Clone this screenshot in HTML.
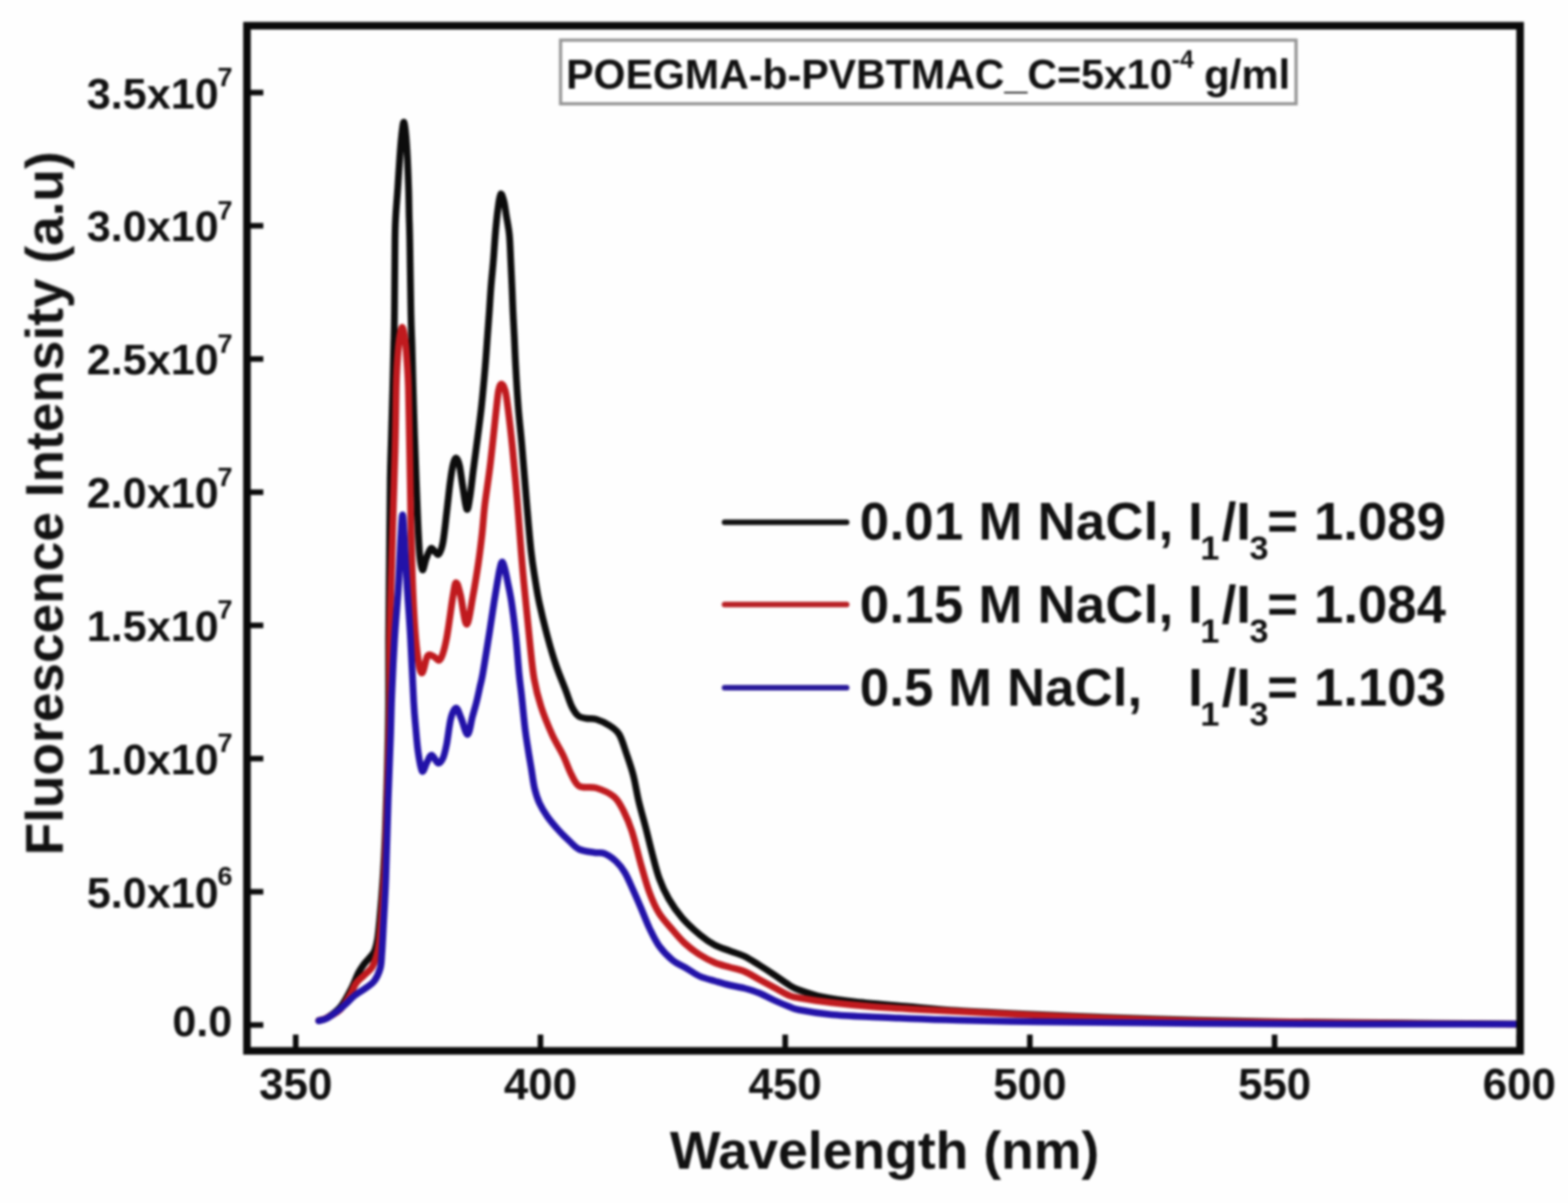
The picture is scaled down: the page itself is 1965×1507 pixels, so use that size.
<!DOCTYPE html>
<html><head><meta charset="utf-8"><title>Fluorescence spectra</title>
<style>html,body{margin:0;padding:0;background:#fff;}svg{display:block;}</style>
</head><body>
<svg width="1965" height="1507" viewBox="0 0 1965 1507">
<defs><filter id="soft" filterUnits="userSpaceOnUse" x="0" y="0" width="1965" height="1507" color-interpolation-filters="sRGB"><feGaussianBlur stdDeviation="1.4"/></filter></defs>
<rect width="1965" height="1507" fill="#fefefe"/>
<g filter="url(#soft)">
<path d="M399.5,1278.5 C401.2,1277.9 405.4,1277.9 410.0,1275.0 C414.6,1272.1 422.0,1267.0 427.0,1261.0 C432.0,1255.0 436.3,1246.0 440.0,1239.0 C443.7,1232.0 446.3,1224.2 449.0,1219.0 C451.7,1213.8 453.7,1211.2 456.0,1208.0 C458.3,1204.8 460.8,1202.7 463.0,1200.0 C465.2,1197.3 467.3,1195.8 469.0,1192.0 C470.7,1188.2 471.8,1184.0 473.0,1177.0 C474.2,1170.0 474.8,1162.8 476.0,1150.0 C477.2,1137.2 478.8,1118.3 480.0,1100.0 C481.2,1081.7 482.1,1063.3 483.0,1040.0 C483.9,1016.7 484.8,986.7 485.5,960.0 C486.2,933.3 486.8,906.7 487.0,880.0 C487.2,853.3 486.8,830.0 487.0,800.0 C487.2,770.0 487.7,733.3 488.0,700.0 C488.3,666.7 488.6,625.7 489.0,600.0 C489.4,574.3 490.0,565.0 490.5,546.0 C491.0,527.0 491.7,504.8 492.2,486.0 C492.7,467.2 493.1,448.5 493.5,433.0 C493.9,417.5 494.1,415.2 494.3,393.0 C494.6,370.8 494.7,320.5 495.0,300.0 C495.3,279.5 495.4,280.8 496.0,270.0 C496.6,259.2 497.7,247.2 498.5,235.0 C499.3,222.8 500.2,208.2 501.0,197.0 C501.8,185.8 502.7,175.3 503.5,168.0 C504.3,160.7 505.2,153.0 506.0,153.0 C506.8,153.0 507.8,160.7 508.5,168.0 C509.2,175.3 509.9,185.8 510.5,197.0 C511.1,208.2 511.6,222.8 512.0,235.0 C512.4,247.2 512.5,259.2 512.7,270.0 C513.0,280.8 513.1,279.5 513.5,300.0 C513.9,320.5 514.5,370.8 515.0,393.0 C515.5,415.2 515.8,417.5 516.3,433.0 C516.8,448.5 517.2,467.2 517.7,486.0 C518.2,504.8 518.9,527.0 519.5,546.0 C520.1,565.0 520.8,582.7 521.5,600.0 C522.2,617.3 522.8,634.2 523.5,650.0 C524.2,665.8 525.0,684.3 526.0,695.0 C527.0,705.7 528.2,713.2 529.5,714.0 C530.8,714.8 532.2,704.5 534.0,700.0 C535.8,695.5 538.0,688.3 540.0,687.0 C542.0,685.7 544.3,690.8 546.0,692.0 C547.7,693.2 548.5,696.0 550.0,694.0 C551.5,692.0 553.3,689.0 555.0,680.0 C556.7,671.0 558.5,652.5 560.0,640.0 C561.5,627.5 562.7,614.8 564.0,605.0 C565.3,595.2 566.7,586.2 568.0,581.0 C569.3,575.8 570.7,573.5 572.0,574.0 C573.3,574.5 574.7,578.0 576.0,584.0 C577.3,590.0 578.5,601.0 580.0,610.0 C581.5,619.0 583.5,636.0 585.0,638.0 C586.5,640.0 587.7,630.0 589.0,622.0 C590.3,614.0 591.7,600.3 593.0,590.0 C594.3,579.7 595.3,573.3 597.0,560.0 C598.7,546.7 601.5,526.7 603.3,510.0 C605.1,493.3 606.7,475.0 608.0,460.0 C609.3,445.0 610.1,431.8 611.0,420.0 C611.9,408.2 612.5,399.5 613.3,389.0 C614.0,378.5 614.6,367.7 615.5,357.0 C616.4,346.3 617.5,336.2 618.4,325.0 C619.3,313.8 620.0,301.2 621.0,290.0 C622.0,278.8 623.4,265.8 624.5,258.0 C625.6,250.2 626.3,244.0 627.5,243.0 C628.7,242.0 630.3,247.5 631.5,252.0 C632.7,256.5 633.4,263.0 634.5,270.0 C635.6,277.0 637.4,284.8 638.3,294.0 C639.2,303.2 639.5,314.5 640.0,325.0 C640.5,335.5 641.0,346.3 641.5,357.0 C642.0,367.7 642.3,378.5 642.8,389.0 C643.3,399.5 643.8,408.2 644.4,420.0 C645.0,431.8 645.4,445.0 646.3,460.0 C647.1,475.0 648.2,493.3 649.5,510.0 C650.8,526.7 652.5,540.0 654.2,560.0 C656.0,580.0 658.1,608.3 660.0,630.0 C661.9,651.7 663.8,674.7 665.5,690.0 C667.2,705.3 668.2,711.0 670.0,722.0 C671.8,733.0 673.2,743.2 676.0,756.0 C678.8,768.8 683.0,786.0 686.5,799.0 C690.0,812.0 693.2,823.0 697.0,834.0 C700.8,845.0 705.7,856.3 709.0,865.0 C712.3,873.7 714.3,880.7 717.0,886.0 C719.7,891.3 722.0,894.7 725.0,897.0 C728.0,899.3 731.3,899.3 735.0,900.0 C738.7,900.7 742.2,899.5 747.0,901.0 C751.8,902.5 759.2,905.8 764.0,909.0 C768.8,912.2 772.5,914.2 776.0,920.0 C779.5,925.8 782.1,935.5 785.0,944.0 C787.9,952.5 791.0,961.0 793.6,971.0 C796.2,981.0 797.9,993.2 800.5,1004.0 C803.1,1014.8 806.2,1025.3 809.0,1036.0 C811.8,1046.7 814.2,1057.3 817.0,1068.0 C819.8,1078.7 822.5,1090.3 826.0,1100.0 C829.5,1109.7 833.2,1117.7 838.0,1126.0 C842.8,1134.3 848.5,1142.5 855.0,1150.0 C861.5,1157.5 870.2,1165.3 877.0,1171.0 C883.8,1176.7 889.8,1180.7 896.0,1184.0 C902.2,1187.3 907.8,1188.7 914.0,1191.0 C920.2,1193.3 926.8,1195.0 933.0,1198.0 C939.2,1201.0 945.3,1205.2 951.5,1209.0 C957.7,1212.8 963.8,1216.8 970.0,1221.0 C976.2,1225.2 983.8,1230.8 989.0,1234.0 C994.2,1237.2 994.0,1237.5 1001.0,1240.0 C1008.0,1242.5 1019.2,1246.5 1031.0,1249.0 C1042.8,1251.5 1053.8,1253.0 1072.0,1255.0 C1090.2,1257.0 1118.7,1259.2 1140.0,1261.0 C1161.3,1262.8 1173.3,1264.3 1200.0,1266.0 C1226.7,1267.7 1266.7,1269.5 1300.0,1271.0 C1333.3,1272.5 1366.7,1273.8 1400.0,1275.0 C1433.3,1276.2 1466.7,1277.2 1500.0,1278.0 C1533.3,1278.8 1566.7,1279.5 1600.0,1280.0 C1633.3,1280.5 1666.7,1280.7 1700.0,1281.0 C1733.3,1281.3 1766.0,1281.7 1800.0,1282.0 C1834.0,1282.3 1886.7,1282.8 1904.0,1283.0" fill="none" stroke="#0c0c0c" stroke-width="8.5" stroke-linejoin="round" stroke-linecap="round"/>
<path d="M399.5,1278.5 C401.2,1277.9 405.4,1277.4 410.0,1275.0 C414.6,1272.6 422.2,1268.8 427.0,1264.0 C431.8,1259.2 435.8,1251.3 439.0,1246.0 C442.2,1240.7 443.2,1236.0 446.0,1232.0 C448.8,1228.0 452.7,1225.3 456.0,1222.0 C459.3,1218.7 463.3,1216.2 466.0,1212.0 C468.7,1207.8 470.5,1202.0 472.0,1197.0 C473.5,1192.0 474.0,1189.8 475.0,1182.0 C476.0,1174.2 476.8,1165.3 478.0,1150.0 C479.2,1134.7 480.9,1111.7 482.0,1090.0 C483.1,1068.3 483.7,1045.0 484.5,1020.0 C485.3,995.0 486.3,963.3 487.0,940.0 C487.7,916.7 488.2,903.3 488.5,880.0 C488.8,856.7 488.1,830.0 488.5,800.0 C488.9,770.0 490.1,733.3 491.0,700.0 C491.9,666.7 493.2,625.7 494.0,600.0 C494.8,574.3 495.1,565.0 495.5,546.0 C495.9,527.0 496.2,500.3 496.5,486.0 C496.8,471.7 497.0,468.8 497.5,460.0 C498.0,451.2 498.8,440.0 499.5,433.0 C500.2,426.0 500.8,421.8 501.5,418.0 C502.2,414.2 503.2,410.0 504.0,410.0 C504.8,410.0 505.8,414.2 506.5,418.0 C507.2,421.8 507.8,426.0 508.5,433.0 C509.2,440.0 509.9,451.2 510.5,460.0 C511.1,468.8 511.4,471.7 511.8,486.0 C512.2,500.3 512.6,527.0 513.0,546.0 C513.4,565.0 513.5,574.3 514.0,600.0 C514.5,625.7 515.1,670.0 516.0,700.0 C516.9,730.0 518.2,759.0 519.5,780.0 C520.8,801.0 522.4,815.5 524.0,826.0 C525.6,836.5 527.0,843.7 529.0,843.0 C531.0,842.3 533.4,825.5 535.7,822.0 C538.0,818.5 540.3,821.3 543.0,822.0 C545.7,822.7 548.9,829.7 551.7,826.0 C554.5,822.3 557.0,813.2 559.6,800.0 C562.2,786.8 565.6,758.7 567.6,747.0 C569.6,735.3 570.0,730.3 571.6,730.0 C573.2,729.7 574.8,736.3 577.0,745.0 C579.2,753.7 582.2,781.8 584.8,782.0 C587.4,782.2 590.4,758.7 592.8,746.0 C595.2,733.3 597.5,718.7 599.4,706.0 C601.3,693.3 602.6,682.3 604.0,670.0 C605.4,657.7 605.9,646.8 607.6,632.0 C609.4,617.2 612.1,601.0 614.5,581.0 C616.9,561.0 620.3,527.3 622.0,512.0 C623.7,496.7 623.8,494.2 624.8,489.0 C625.8,483.8 626.9,481.0 628.3,481.0 C629.7,481.0 631.6,484.2 633.0,489.0 C634.4,493.8 634.9,498.2 636.4,510.0 C637.9,521.8 640.2,540.8 642.1,560.0 C644.0,579.2 646.2,603.3 648.0,625.0 C649.8,646.7 651.6,672.5 653.0,690.0 C654.4,707.5 655.3,717.5 656.5,730.0 C657.7,742.5 658.8,752.5 660.0,765.0 C661.2,777.5 662.5,790.8 664.0,805.0 C665.5,819.2 667.0,836.7 669.3,850.0 C671.6,863.3 674.2,873.3 678.0,885.0 C681.8,896.7 687.2,909.8 691.8,920.0 C696.4,930.2 701.6,937.7 705.6,946.0 C709.6,954.3 712.5,963.5 715.9,970.0 C719.3,976.5 721.1,982.2 726.3,985.0 C731.5,987.8 739.8,984.8 747.0,987.0 C754.2,989.2 763.6,993.2 769.4,998.0 C775.1,1002.8 777.8,1008.8 781.5,1016.0 C785.2,1023.2 788.1,1029.7 791.8,1041.0 C795.5,1052.3 799.8,1071.2 803.5,1084.0 C807.2,1096.8 810.1,1108.0 813.9,1118.0 C817.6,1128.0 821.1,1136.2 826.0,1144.0 C830.9,1151.8 837.6,1158.7 843.0,1165.0 C848.4,1171.3 852.9,1176.8 858.6,1182.0 C864.3,1187.2 870.8,1192.0 877.0,1196.0 C883.2,1200.0 889.8,1203.4 896.0,1206.0 C902.2,1208.6 907.8,1209.7 914.0,1211.5 C920.2,1213.3 926.8,1214.4 933.0,1217.0 C939.2,1219.6 945.3,1223.7 951.5,1227.0 C957.7,1230.3 963.8,1233.7 970.0,1237.0 C976.2,1240.3 983.8,1244.8 989.0,1247.0 C994.2,1249.2 992.2,1248.5 1001.0,1250.0 C1009.8,1251.5 1026.7,1254.2 1042.0,1256.0 C1057.3,1257.8 1076.7,1259.7 1093.0,1261.0 C1109.3,1262.3 1122.2,1263.0 1140.0,1264.0 C1157.8,1265.0 1173.3,1265.7 1200.0,1267.0 C1226.7,1268.3 1266.7,1270.5 1300.0,1272.0 C1333.3,1273.5 1366.7,1274.8 1400.0,1276.0 C1433.3,1277.2 1466.7,1278.2 1500.0,1279.0 C1533.3,1279.8 1566.7,1280.1 1600.0,1280.5 C1633.3,1280.9 1666.7,1281.2 1700.0,1281.5 C1733.3,1281.8 1766.0,1282.2 1800.0,1282.5 C1834.0,1282.8 1886.7,1282.9 1904.0,1283.0" fill="none" stroke="#c01a1e" stroke-width="8.5" stroke-linejoin="round" stroke-linecap="round"/>
<path d="M399.5,1278.8 C401.2,1278.2 405.8,1277.8 410.0,1275.5 C414.2,1273.2 421.0,1268.1 425.0,1265.0 C429.0,1261.9 430.8,1259.9 434.0,1257.0 C437.2,1254.1 440.0,1250.7 444.0,1247.5 C448.0,1244.3 453.8,1241.1 458.0,1238.0 C462.2,1234.9 465.9,1233.2 469.0,1229.0 C472.1,1224.8 474.9,1218.7 476.5,1213.0 C478.1,1207.3 477.8,1203.8 478.5,1195.0 C479.2,1186.2 479.7,1175.8 480.5,1160.0 C481.3,1144.2 482.5,1126.7 483.5,1100.0 C484.5,1073.3 485.5,1030.0 486.5,1000.0 C487.5,970.0 488.8,941.7 489.5,920.0 C490.2,898.3 490.2,890.0 491.0,870.0 C491.8,850.0 493.2,821.7 494.5,800.0 C495.8,778.3 497.9,756.7 499.0,740.0 C500.1,723.3 500.4,711.7 501.0,700.0 C501.6,688.3 501.9,679.2 502.5,670.0 C503.1,660.8 503.8,645.0 504.5,645.0 C505.2,645.0 505.9,660.8 506.5,670.0 C507.1,679.2 507.3,688.3 508.0,700.0 C508.7,711.7 509.4,723.3 510.5,740.0 C511.6,756.7 513.2,776.7 514.5,800.0 C515.8,823.3 517.4,861.3 518.5,880.0 C519.6,898.7 520.1,901.7 521.0,912.0 C521.9,922.3 522.7,933.0 524.0,942.0 C525.3,951.0 527.2,963.8 529.0,966.0 C530.8,968.2 533.0,958.3 535.0,955.0 C537.0,951.7 538.7,945.8 541.0,946.0 C543.3,946.2 546.7,955.3 549.0,956.0 C551.3,956.7 553.2,953.8 555.0,950.0 C556.8,946.2 557.9,941.3 559.6,933.0 C561.3,924.7 563.0,907.7 565.0,900.0 C567.0,892.3 569.4,887.0 571.6,887.0 C573.8,887.0 575.6,894.5 578.0,900.0 C580.4,905.5 583.7,920.3 586.0,920.0 C588.3,919.7 590.2,904.7 592.0,898.0 C593.8,891.3 595.4,886.3 597.0,880.0 C598.6,873.7 600.2,866.0 601.5,860.0 C602.8,854.0 603.1,854.7 605.0,844.0 C606.9,833.3 610.4,811.0 612.8,796.0 C615.2,781.0 617.4,765.3 619.2,754.0 C621.0,742.7 622.3,735.0 623.5,728.0 C624.7,721.0 625.5,716.0 626.5,712.0 C627.5,708.0 628.3,704.0 629.3,704.0 C630.3,704.0 631.4,708.0 632.5,712.0 C633.6,716.0 634.6,721.0 636.0,728.0 C637.4,735.0 639.3,742.7 641.0,754.0 C642.7,765.3 644.7,781.0 646.3,796.0 C647.9,811.0 649.3,831.7 650.5,844.0 C651.7,856.3 652.2,858.5 653.5,870.0 C654.8,881.5 656.6,901.3 658.0,913.0 C659.4,924.7 660.7,931.5 662.0,940.0 C663.3,948.5 664.7,956.0 666.0,964.0 C667.3,972.0 668.3,981.0 670.0,988.0 C671.7,995.0 673.3,1000.2 676.0,1006.0 C678.7,1011.8 682.0,1017.3 686.0,1023.0 C690.0,1028.7 695.3,1034.8 700.0,1040.0 C704.7,1045.2 709.7,1050.0 714.0,1054.0 C718.3,1058.0 720.8,1061.7 726.0,1064.0 C731.2,1066.3 739.8,1067.2 745.0,1068.0 C750.2,1068.8 752.5,1067.2 757.0,1069.0 C761.5,1070.8 767.7,1075.0 772.0,1079.0 C776.3,1083.0 779.5,1087.2 783.0,1093.0 C786.5,1098.8 789.6,1106.5 793.0,1114.0 C796.4,1121.5 800.0,1129.8 803.5,1138.0 C807.0,1146.2 810.2,1155.2 814.0,1163.0 C817.8,1170.8 821.2,1178.3 826.0,1185.0 C830.8,1191.7 837.6,1198.5 843.0,1203.0 C848.4,1207.5 852.9,1208.7 858.6,1212.0 C864.3,1215.3 870.8,1220.2 877.0,1223.0 C883.2,1225.8 889.8,1227.2 896.0,1229.0 C902.2,1230.8 907.8,1232.5 914.0,1234.0 C920.2,1235.5 926.8,1236.3 933.0,1238.0 C939.2,1239.7 945.3,1241.5 951.5,1244.0 C957.7,1246.5 963.8,1250.2 970.0,1253.0 C976.2,1255.8 983.8,1259.0 989.0,1261.0 C994.2,1263.0 992.2,1263.3 1001.0,1265.0 C1009.8,1266.7 1026.7,1269.5 1042.0,1271.0 C1057.3,1272.5 1076.7,1273.2 1093.0,1274.0 C1109.3,1274.8 1122.2,1275.3 1140.0,1276.0 C1157.8,1276.7 1173.3,1277.3 1200.0,1278.0 C1226.7,1278.7 1266.7,1279.5 1300.0,1280.0 C1333.3,1280.5 1366.7,1280.7 1400.0,1281.0 C1433.3,1281.3 1450.0,1281.7 1500.0,1282.0 C1550.0,1282.3 1632.7,1282.8 1700.0,1283.0 C1767.3,1283.2 1870.0,1283.0 1904.0,1283.0" fill="none" stroke="#2212a8" stroke-width="8.5" stroke-linejoin="round" stroke-linecap="round"/>
<rect x="309.5" y="32.2" width="1595.5" height="1284.2" fill="none" stroke="#0a0a0a" stroke-width="9.5"/>
<line x1="313" y1="1284.0" x2="330" y2="1284.0" stroke="#0a0a0a" stroke-width="7"/>
<line x1="313" y1="1117.1" x2="330" y2="1117.1" stroke="#0a0a0a" stroke-width="7"/>
<line x1="313" y1="950.3" x2="330" y2="950.3" stroke="#0a0a0a" stroke-width="7"/>
<line x1="313" y1="783.4" x2="330" y2="783.4" stroke="#0a0a0a" stroke-width="7"/>
<line x1="313" y1="616.6" x2="330" y2="616.6" stroke="#0a0a0a" stroke-width="7"/>
<line x1="313" y1="449.7" x2="330" y2="449.7" stroke="#0a0a0a" stroke-width="7"/>
<line x1="313" y1="282.8" x2="330" y2="282.8" stroke="#0a0a0a" stroke-width="7"/>
<line x1="313" y1="116.0" x2="330" y2="116.0" stroke="#0a0a0a" stroke-width="7"/>
<line x1="370.6" y1="1312" x2="370.6" y2="1296" stroke="#0a0a0a" stroke-width="7"/>
<line x1="677.3" y1="1312" x2="677.3" y2="1296" stroke="#0a0a0a" stroke-width="7"/>
<line x1="984.0" y1="1312" x2="984.0" y2="1296" stroke="#0a0a0a" stroke-width="7"/>
<line x1="1290.6" y1="1312" x2="1290.6" y2="1296" stroke="#0a0a0a" stroke-width="7"/>
<line x1="1597.3" y1="1312" x2="1597.3" y2="1296" stroke="#0a0a0a" stroke-width="7"/>
<line x1="1904.0" y1="1312" x2="1904.0" y2="1296" stroke="#0a0a0a" stroke-width="7"/>
<text x="274" y="135.5" font-family="'Liberation Sans', Arial, Helvetica, sans-serif" font-weight="bold" fill="#111" font-size="54" text-anchor="end">3.5x10</text>
<text x="272.5" y="108.0" font-family="'Liberation Sans', Arial, Helvetica, sans-serif" font-weight="bold" fill="#111" font-size="34">7</text>
<text x="274" y="302.3" font-family="'Liberation Sans', Arial, Helvetica, sans-serif" font-weight="bold" fill="#111" font-size="54" text-anchor="end">3.0x10</text>
<text x="272.5" y="274.8" font-family="'Liberation Sans', Arial, Helvetica, sans-serif" font-weight="bold" fill="#111" font-size="34">7</text>
<text x="274" y="469.2" font-family="'Liberation Sans', Arial, Helvetica, sans-serif" font-weight="bold" fill="#111" font-size="54" text-anchor="end">2.5x10</text>
<text x="272.5" y="441.7" font-family="'Liberation Sans', Arial, Helvetica, sans-serif" font-weight="bold" fill="#111" font-size="34">7</text>
<text x="274" y="636.1" font-family="'Liberation Sans', Arial, Helvetica, sans-serif" font-weight="bold" fill="#111" font-size="54" text-anchor="end">2.0x10</text>
<text x="272.5" y="608.6" font-family="'Liberation Sans', Arial, Helvetica, sans-serif" font-weight="bold" fill="#111" font-size="34">7</text>
<text x="274" y="802.9" font-family="'Liberation Sans', Arial, Helvetica, sans-serif" font-weight="bold" fill="#111" font-size="54" text-anchor="end">1.5x10</text>
<text x="272.5" y="775.4" font-family="'Liberation Sans', Arial, Helvetica, sans-serif" font-weight="bold" fill="#111" font-size="34">7</text>
<text x="274" y="969.8" font-family="'Liberation Sans', Arial, Helvetica, sans-serif" font-weight="bold" fill="#111" font-size="54" text-anchor="end">1.0x10</text>
<text x="272.5" y="942.3" font-family="'Liberation Sans', Arial, Helvetica, sans-serif" font-weight="bold" fill="#111" font-size="34">7</text>
<text x="274" y="1136.6" font-family="'Liberation Sans', Arial, Helvetica, sans-serif" font-weight="bold" fill="#111" font-size="54" text-anchor="end">5.0x10</text>
<text x="272.5" y="1109.1" font-family="'Liberation Sans', Arial, Helvetica, sans-serif" font-weight="bold" fill="#111" font-size="34">6</text>
<text x="291" y="1298.0" font-family="'Liberation Sans', Arial, Helvetica, sans-serif" font-weight="bold" fill="#111" font-size="54" text-anchor="end">0.0</text>
<text x="370.6" y="1376.5" font-family="'Liberation Sans', Arial, Helvetica, sans-serif" font-weight="bold" fill="#111" font-size="55" text-anchor="middle">350</text>
<text x="677.3" y="1376.5" font-family="'Liberation Sans', Arial, Helvetica, sans-serif" font-weight="bold" fill="#111" font-size="55" text-anchor="middle">400</text>
<text x="984.0" y="1376.5" font-family="'Liberation Sans', Arial, Helvetica, sans-serif" font-weight="bold" fill="#111" font-size="55" text-anchor="middle">450</text>
<text x="1290.6" y="1376.5" font-family="'Liberation Sans', Arial, Helvetica, sans-serif" font-weight="bold" fill="#111" font-size="55" text-anchor="middle">500</text>
<text x="1597.3" y="1376.5" font-family="'Liberation Sans', Arial, Helvetica, sans-serif" font-weight="bold" fill="#111" font-size="55" text-anchor="middle">550</text>
<text x="1904.0" y="1376.5" font-family="'Liberation Sans', Arial, Helvetica, sans-serif" font-weight="bold" fill="#111" font-size="55" text-anchor="middle">600</text>
<text x="1108.5" y="1464" font-family="'Liberation Sans', Arial, Helvetica, sans-serif" font-weight="bold" fill="#111" font-size="67.1" text-anchor="middle">Wavelength (nm)</text>
<text transform="translate(78.7,630.5) rotate(-90)" x="0" y="0" font-family="'Liberation Sans', Arial, Helvetica, sans-serif" font-weight="bold" fill="#111" font-size="66.7" text-anchor="middle">Fluorescence Intensity (a.u)</text>
<rect x="702.5" y="50.3" width="921.7" height="79.7" fill="#fff" stroke="#959595" stroke-width="4"/>
<text x="709.5" y="110.5" font-family="'Liberation Sans', Arial, Helvetica, sans-serif" font-weight="bold" fill="#111" font-size="51.5">POEGMA-b-PVBTMAC_C=5x10</text>
<text x="1468.5" y="85" font-family="'Liberation Sans', Arial, Helvetica, sans-serif" font-weight="bold" fill="#111" font-size="31">-4</text>
<text x="1509" y="110.5" font-family="'Liberation Sans', Arial, Helvetica, sans-serif" font-weight="bold" fill="#111" font-size="52.5">g/ml</text>
<line x1="908" y1="654.2" x2="1061" y2="654.2" stroke="#111111" stroke-width="7" stroke-linecap="round"/>
<text x="1077.6" y="676.4" font-family="'Liberation Sans', Arial, Helvetica, sans-serif" font-weight="bold" fill="#111" font-size="66" textLength="392.8" lengthAdjust="spacing">0.01 M NaCl,</text>
<text y="676.4" font-family="'Liberation Sans', Arial, Helvetica, sans-serif" font-weight="bold" fill="#111" font-size="66"><tspan x="1489">I</tspan><tspan x="1504.3" y="701.4" font-size="43">1</tspan><tspan x="1531" y="676.4">/I</tspan><tspan x="1565.8" y="701.4" font-size="43">3</tspan><tspan x="1588.1" y="676.4">=</tspan><tspan x="1646.8">1.089</tspan></text>
<line x1="908" y1="757.3" x2="1061" y2="757.3" stroke="#b82024" stroke-width="7" stroke-linecap="round"/>
<text x="1077.6" y="779.5" font-family="'Liberation Sans', Arial, Helvetica, sans-serif" font-weight="bold" fill="#111" font-size="66" textLength="392.8" lengthAdjust="spacing">0.15 M NaCl,</text>
<text y="779.5" font-family="'Liberation Sans', Arial, Helvetica, sans-serif" font-weight="bold" fill="#111" font-size="66"><tspan x="1489">I</tspan><tspan x="1504.3" y="804.5" font-size="43">1</tspan><tspan x="1531" y="779.5">/I</tspan><tspan x="1565.8" y="804.5" font-size="43">3</tspan><tspan x="1588.1" y="779.5">=</tspan><tspan x="1646.8">1.084</tspan></text>
<line x1="908" y1="861.4" x2="1061" y2="861.4" stroke="#2a1a9a" stroke-width="7" stroke-linecap="round"/>
<text x="1077.6" y="883.6" font-family="'Liberation Sans', Arial, Helvetica, sans-serif" font-weight="bold" fill="#111" font-size="66" textLength="353.8" lengthAdjust="spacing">0.5 M NaCl,</text>
<text y="883.6" font-family="'Liberation Sans', Arial, Helvetica, sans-serif" font-weight="bold" fill="#111" font-size="66"><tspan x="1489">I</tspan><tspan x="1504.3" y="908.6" font-size="43">1</tspan><tspan x="1531" y="883.6">/I</tspan><tspan x="1565.8" y="908.6" font-size="43">3</tspan><tspan x="1588.1" y="883.6">=</tspan><tspan x="1646.8">1.103</tspan></text>
</g>
</svg>
</body></html>
